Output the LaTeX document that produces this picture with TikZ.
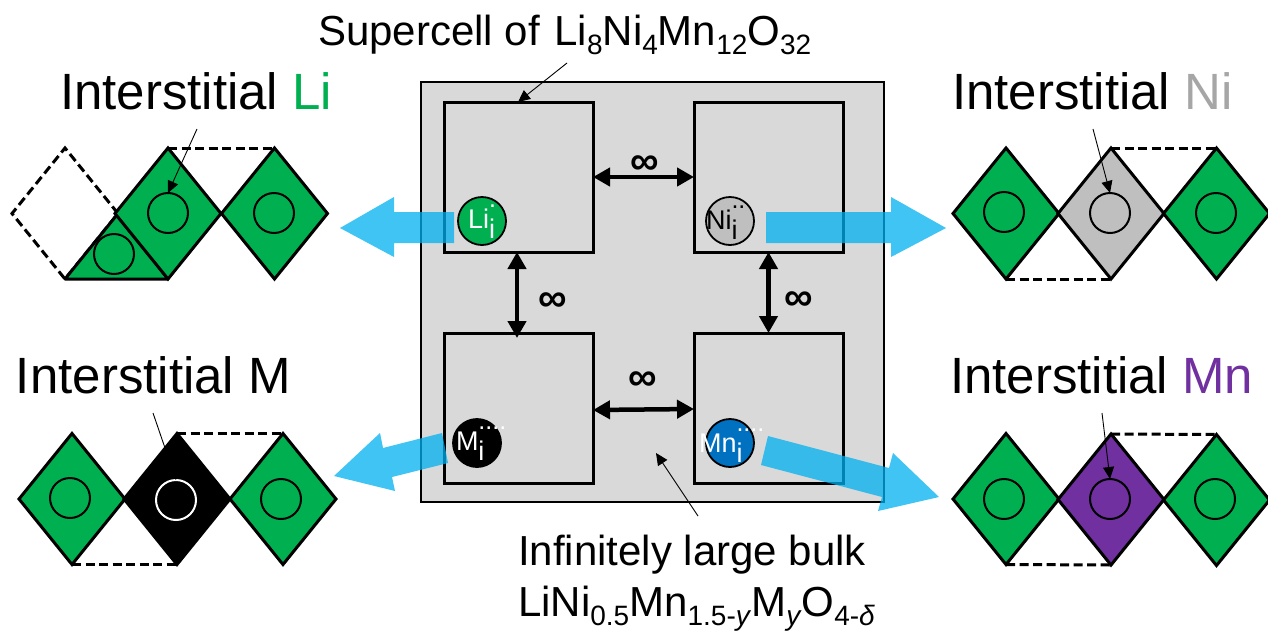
\documentclass[tikz,border=0pt]{standalone}
\usepackage{fontspec}
\setmainfont{Liberation Sans}
\usetikzlibrary{arrows.meta,shapes.geometric}
\definecolor{ligreen}{HTML}{00B050}
\definecolor{nigray}{HTML}{BFBFBF}
\definecolor{nitext}{HTML}{A6A6A6}
\definecolor{mnpurple}{HTML}{7030A0}
\definecolor{mnblue}{HTML}{0070C0}
\definecolor{bulkgray}{HTML}{D9D9D9}
\definecolor{arrowblue}{HTML}{00B0F0}
\newcommand\fsz[1]{\fontsize{#1pt}{#1pt}\selectfont}
\newcommand\sbb[1]{\raisebox{-9pt}{\fsz{28}#1}}
\newcommand\ionlbl[2]{#1\rlap{\raisebox{21pt}{\fsz{25}#2}}\raisebox{-10pt}{\fsz{27}i}}
\tikzset{
  x=1pt,y=-1pt,
  bulkbox/.style={draw=black,line width=1.8pt,fill=bulkgray,minimum width=463pt,minimum height=420pt,inner sep=0pt,outer sep=0pt},
  cellbox/.style={draw=black,line width=3pt,minimum width=149pt,minimum height=150pt,inner sep=0pt,outer sep=0pt},
  rhomb/.style={diamond,draw=black,line width=3pt,fill=#1,minimum width=106pt,minimum height=131pt,inner sep=0pt,outer sep=0pt,line join=miter},
  dashrhomb/.style={diamond,draw=black,line width=3pt,dash pattern=on 9pt off 4.5pt,minimum width=106pt,minimum height=131pt,inner sep=0pt,outer sep=0pt},
  dashedge/.style={draw=black,line width=3pt,dash pattern=on 9pt off 4.5pt},
  site/.style={circle,draw=#1,line width=2pt,minimum size=40pt,inner sep=0pt,outer sep=0pt},
  ion/.style={circle,draw=black,line width=1.8pt,fill=#1,minimum size=48pt,inner sep=0pt,outer sep=0pt},
  ionlab/.style={anchor=base west,inner sep=0pt,outer sep=0pt,font=\fsz{27},text=#1},
  bigtext/.style={anchor=base west,inner sep=0pt,outer sep=0pt,font=\fsz{51}},
  midtext/.style={anchor=base west,inner sep=0pt,outer sep=0pt,font=\fsz{42}},
  inftext/.style={inner sep=0pt,outer sep=0pt,font=\fsz{40}\bfseries},
  thinarrow/.style={draw=black,line width=0.9pt,-{Triangle[length=12pt,width=11pt]}},
  span/.style={draw=black,line width=4.5pt,{Triangle[length=17pt,width=18pt]}-{Triangle[length=17pt,width=18pt]}},
  bluearrow/.style={fill=arrowblue,fill opacity=.75,draw=none},
}
\begin{document}
\begin{tikzpicture}
\useasboundingbox (0,0) rectangle (1268,635);

% bulk and supercells
\node[bulkbox] (bulk) at (652.5,292) {};
\node[cellbox] (cellA) at (518.5,177) {};
\node[cellbox] (cellB) at (768.5,177) {};
\node[cellbox] (cellC) at (518.5,408) {};
\node[cellbox] (cellD) at (768.5,408) {};

% spans between cells
\draw[span] (cellA.east) -- (cellB.west);
\draw[span] ([yshift=-2pt]cellC.east) -- ([yshift=-1pt]cellD.west);
\draw[span,shorten >=-5pt] ([xshift=-1.5pt]cellA.south) -- ([xshift=-1.5pt]cellC.north);
\draw[span] (cellB.south) -- (cellD.north);
\node[inftext] (infA) at (645,165) {∞};
\node[inftext] (infB) at (553,302) {∞};
\node[inftext] (infC) at (799,301) {∞};
\node[inftext] (infD) at (643,381) {∞};

% ions
\node[ion=ligreen] (ionLi) at (482,221) {};
\node[ion=nigray] (ionNi) at (730,221) {};
\node[ion=black] (ionM) at (477,443) {};
\node[ion=mnblue] (ionMn) at (730,443) {};
\node[ionlab=white] (labLi) at (468,228) {\ionlbl{Li}{.}};
\node[ionlab=black] (labNi) at (706,229) {\ionlbl{Ni}{..}};
\node[ionlab=white] (labM) at (456,450) {\ionlbl{M}{....}};
\node[ionlab=white] (labMn) at (699,452) {\ionlbl{Mn}{....}};

% Li panel
\node[dashrhomb] (liDash) at (65,213.5) {};
\fill[ligreen,draw=black,line width=3pt,line join=round] (liDash.south) -- (168,279) -- (liDash.east) -- cycle;
\node[site=black] (liS1) at (114,254) {};
\node[rhomb=ligreen] (liR2) at (168,213.5) {};
\node[rhomb=ligreen] (liR3) at (274.5,213.5) {};
\node[site=black] (liS2) at (168,213) {};
\node[site=black] (liS3) at (274,213) {};
\draw[dashedge] (liR2.north) -- (liR3.north);

% Ni panel
\node[rhomb=ligreen] (niR1) at (1006,213.5) {};
\node[rhomb=nigray] (niR2) at (1111,213.5) {};
\node[rhomb=ligreen] (niR3) at (1216.5,213.5) {};
\node[site=black] (niS1) at (1004,212) {};
\node[site=black] (niS2) at (1110,213) {};
\node[site=black] (niS3) at (1216,213) {};
\draw[dashedge] (niR2.north) -- (niR3.north);
\draw[dashedge] (niR1.south) -- (niR2.south);

% M panel
\node[rhomb=ligreen] (mR1) at (72,499) {};
\node[rhomb=black] (mR2) at (177,499) {};
\node[rhomb=ligreen] (mR3) at (283,499) {};
\node[site=black] (mS1) at (70,498) {};
\node[site=white] (mS2) at (176,500) {};
\node[site=black] (mS3) at (281,499) {};
\draw[dashedge] (mR2.north) -- (mR3.north);
\draw[dashedge] (mR1.south) -- (mR2.south);

% Mn panel
\node[rhomb=ligreen] (mnR1) at (1006,499) {};
\node[rhomb=mnpurple] (mnR2) at (1111,499.5) {};
\node[rhomb=ligreen] (mnR3) at (1216.5,500) {};
\node[site=black] (mnS1) at (1004,499) {};
\node[site=black] (mnS2) at (1110,499) {};
\node[site=black] (mnS3) at (1215,499) {};
\draw[dashedge] (mnR2.north) -- (mnR3.north);
\draw[dashedge] (mnR1.south) -- (mnR2.south);

% thin pointers
\coordinate (ptrLi) at (197,129);
\coordinate (ptrNi) at (1093,129);
\coordinate (ptrM) at (153,413);
\coordinate (ptrMn) at (1102,413);
\coordinate (ptrCell) at (567,63);
\coordinate (ptrBulk) at (698,516);
\coordinate (tipBulk) at (656,453);
\draw[thinarrow] (ptrLi) -- (liS2.north);
\draw[thinarrow] (ptrNi) -- (niS2.north);
\draw[thinarrow] (ptrM) -- (mS2.north);
\draw[thinarrow] (ptrMn) -- (mnS2.north);
\draw[thinarrow] (ptrCell) -- ([xshift=-0.5pt]cellA.north);
\draw[thinarrow] (ptrBulk) -- (tipBulk);

% blue arrows
\path[bluearrow] (454,212) -- (394,212) -- (394,197) -- (340,228) -- (394,257) -- (394,243) -- (454,243) -- cycle;
\path[bluearrow] (766,212) -- (891,212) -- (891,197) -- (946,228) -- (891,257) -- (891,243) -- (766,243) -- cycle;
\path[bluearrow] (442,433) -- (383,448) -- (380,433) -- (334,476) -- (395,491) -- (392,477) -- (448,463) -- cycle;
\path[bluearrow] (768,436) -- (889,468) -- (893,453) -- (939,497) -- (878,511) -- (882,497) -- (761,465) -- cycle;

% headings
\node[bigtext] (tLi) at (60,109) {Interstitial \textcolor{ligreen}{Li}};
\node[bigtext] (tNi) at (952,109) {Interstitial \textcolor{nitext}{Ni}};
\node[bigtext] (tM) at (16,393) {Interstitial M};
\node[bigtext] (tMn) at (950,393) {Interstitial \textcolor{mnpurple}{Mn}};
\node[midtext] (tCell) at (318,45) {Supercell of\kern3pt{} Li\sbb{8}Ni\sbb{4}Mn\sbb{12}O\sbb{32}};
\node[midtext] (tBulk1) at (518,565) {Infinitely large bulk};
\node[midtext] (tBulk2) at (518,616) {LiNi\sbb{0.5}Mn\sbb{1.5-\textit{y}}M\sbb{\textit{y}}O\sbb{4-\textit{δ}}};
\end{tikzpicture}
\end{document}
